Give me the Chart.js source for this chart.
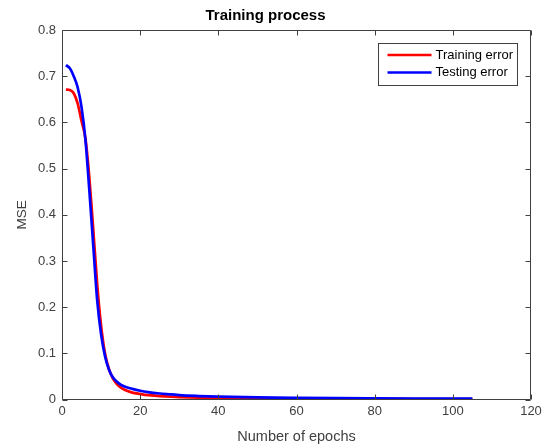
<!DOCTYPE html>
<html>
<head>
<meta charset="utf-8">
<script src="https://cdn.jsdelivr.net/npm/chart.js@4"></script>
<style>
  html, body { margin: 0; padding: 0; background: #fff; }
</style>
</head>
<body>
<canvas id="trainChart" width="548" height="448"></canvas>
<script>
// values
const epochs = [1, 2, 3, 4, 5, 6, 7, 8, 9, 10, 11, 12, 13, 14, 15, 16, 18, 20, 22, 25, 28, 30, 35, 40, 50, 60, 70, 80, 90, 105];
const trainError = [0.671, 0.670, 0.663, 0.641, 0.603, 0.565, 0.480, 0.368, 0.250, 0.160, 0.100, 0.066, 0.046, 0.034, 0.026, 0.021, 0.015, 0.012, 0.0095, 0.0075, 0.006, 0.0052, 0.004, 0.0032, 0.0022, 0.0017, 0.0014, 0.0012, 0.001, 0.0009];
const testError = [0.724, 0.717, 0.700, 0.676, 0.633, 0.562, 0.452, 0.333, 0.215, 0.141, 0.094, 0.065, 0.048, 0.039, 0.032, 0.028, 0.023, 0.019, 0.016, 0.013, 0.011, 0.0095, 0.0075, 0.0062, 0.0045, 0.0035, 0.0028, 0.0024, 0.0021, 0.0018];
const xTicks = [0, 20, 40, 60, 80, 100, 120];
const yTicks = [0, 0.1, 0.2, 0.3, 0.4, 0.5, 0.6, 0.7, 0.8];
const seriesNames = ['Training error', 'Testing error'];
const seriesColors = ['#ff0000', '#0000ff'];

const axisColor = '#404040';
const fontFamily = '"Liberation Sans", Arial, Helvetica, sans-serif';

function toPoints(xs, ys) {
  return xs.map((x, i) => ({ x: x, y: ys[i] }));
}

// matlab style box, inward ticks and boxed legend
const matlabBox = {
  id: 'matlabBox',
  afterDatasetsDraw(chart) {
    const { ctx, chartArea: a, scales: { x, y } } = chart;
    const L = Math.round(a.left) + 0.5;
    const R = Math.round(a.right) - 0.5;
    const T = Math.round(a.top) + 0.5;
    const B = Math.floor(a.bottom) + 0.5;
    ctx.save();
    ctx.strokeStyle = axisColor;
    ctx.lineWidth = 1;
    ctx.beginPath();
    ctx.rect(L, T, R - L, B - T);
    xTicks.forEach(v => {
      const px = Math.round(x.getPixelForValue(v)) + 0.5;
      ctx.moveTo(px, B); ctx.lineTo(px, B - 5);
      ctx.moveTo(px, T); ctx.lineTo(px, T + 5);
    });
    yTicks.forEach(v => {
      const py = Math.round(y.getPixelForValue(v)) + 0.5;
      ctx.moveTo(L, py); ctx.lineTo(L + 5, py);
      ctx.moveTo(R, py); ctx.lineTo(R - 5, py);
    });
    ctx.stroke();

    // legend
    const bw = 139, bh = 42;
    const bx = Math.round(a.right) - 14 - bw + 0.5;
    const by = Math.round(a.top) + 13 + 0.5;
    ctx.fillStyle = '#fff';
    ctx.fillRect(bx, by, bw, bh);
    ctx.strokeRect(bx, by, bw, bh);
    ctx.font = '13px ' + fontFamily;
    ctx.textBaseline = 'middle';
    chart.data.datasets.forEach((ds, i) => {
      const ry = by + 11.5 + i * 17.5;
      ctx.strokeStyle = ds.borderColor;
      ctx.lineWidth = 2.7;
      ctx.beginPath();
      ctx.moveTo(bx + 9, ry);
      ctx.lineTo(bx + 53, ry);
      ctx.stroke();
      ctx.fillStyle = '#000';
      ctx.fillText(ds.label, bx + 57, ry);
    });
    ctx.restore();
  }
};

new Chart(document.getElementById('trainChart'), {
  type: 'line',
  data: {
    datasets: [
      {
        label: seriesNames[0],
        data: toPoints(epochs, trainError),
        borderColor: seriesColors[0],
        borderWidth: 2.7,
        pointRadius: 0,
        cubicInterpolationMode: 'monotone',
        order: 1
      },
      {
        label: seriesNames[1],
        data: toPoints(epochs, testError),
        borderColor: seriesColors[1],
        borderWidth: 2.7,
        pointRadius: 0,
        cubicInterpolationMode: 'monotone',
        order: 0
      }
    ]
  },
  options: {
    responsive: false,
    animation: false,
    layout: { padding: { left: 0, right: 17, top: 0, bottom: 0 } },
    plugins: {
      legend: { display: false },
      tooltip: { enabled: false },
      title: {
        display: true,
        text: 'Training process',
        color: '#000',
        font: { family: fontFamily, size: 15, weight: 'bold' },
        padding: { top: 7, bottom: 5 }
      }
    },
    scales: {
      x: {
        type: 'linear',
        min: 0,
        max: 120,
        afterBuildTicks: s => { s.ticks = xTicks.map(v => ({ value: v })); },
        afterFit: s => { s.height = 48.5; },
        grid: { display: false, drawTicks: false },
        border: { display: false },
        ticks: { color: axisColor, padding: 4, maxRotation: 0, font: { family: fontFamily, size: 13 } },
        title: {
          display: true,
          text: 'Number of epochs',
          color: axisColor,
          font: { family: fontFamily, size: 14.5 },
          padding: { top: 0, bottom: 2 }
        }
      },
      y: {
        type: 'linear',
        min: 0,
        max: 0.8,
        afterBuildTicks: s => { s.ticks = yTicks.map(v => ({ value: v })); },
        afterFit: s => { s.width = 62; },
        grid: { display: false, drawTicks: false },
        border: { display: false },
        ticks: { color: axisColor, padding: 6, font: { family: fontFamily, size: 13 } },
        title: {
          display: true,
          text: 'MSE',
          color: axisColor,
          font: { family: fontFamily, size: 13.5 },
          padding: { top: 14, bottom: 0 }
        }
      }
    }
  },
  plugins: [matlabBox]
});
</script>
</body>
</html>
